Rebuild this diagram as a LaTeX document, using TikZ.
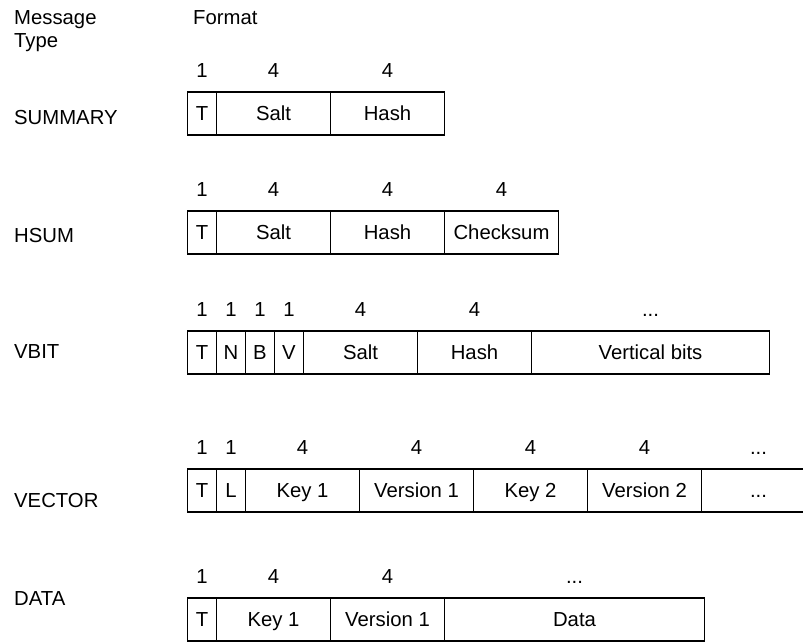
\documentclass[tikz,border=0pt]{standalone}
\usepackage{fontspec}
\setmainfont{Liberation Sans}
\usetikzlibrary{positioning}

\tikzset{
  field/.style={draw, line width=1.2pt, inner sep=0pt, outer sep=0pt,
    minimum height=43pt, text height=14.5pt, text depth=0pt},
  one/.style={field, minimum width=29pt},
  four/.style={field, minimum width=114pt},
  num/.style={inner sep=0pt, text height=14.5pt, text depth=0pt},
  msgname/.style={anchor=base west, inner sep=0pt},
}

\begin{document}
\begin{tikzpicture}[x=1pt, y=1pt, font=\fontsize{20.3}{23}\selectfont]% Message formats
  \useasboundingbox (0,0) rectangle (803,-642);

  % headings
  \node[align=left, anchor=north west, inner sep=0pt] (msg) at (14,-10) {Message\\Type};
  \node[anchor=north west, inner sep=0pt] (fmt) at (193,-10) {Format};

  % SUMMARY
  \node[msgname] (summary) at (14,-124) {SUMMARY};
  \node[one, anchor=west] (sT) at (187.5,-113.5) {T};
  \node[four, right=0pt of sT] (sSalt) {Salt};
  \node[four, right=0pt of sSalt] (sHash) {Hash};
  \node[num, above=14pt of sT] (sTn) {1};
  \node[num, above=14pt of sSalt] (sSaltn) {4};
  \node[num, above=14pt of sHash] (sHashn) {4};

  % HSUM
  \node[msgname] (hsum) at (14,-242) {HSUM};
  \node[one, anchor=west] (hT) at (187.5,-232.5) {T};
  \node[four, right=0pt of hT] (hSalt) {Salt};
  \node[four, right=0pt of hSalt] (hHash) {Hash};
  \node[four, right=0pt of hHash] (hCheck) {Checksum};
  \node[num, above=14pt of hT] (hTn) {1};
  \node[num, above=14pt of hSalt] (hSaltn) {4};
  \node[num, above=14pt of hHash] (hHashn) {4};
  \node[num, above=14pt of hCheck] (hCheckn) {4};

  % VBIT
  \node[msgname] (vbit) at (14,-358) {VBIT};
  \node[one, anchor=west] (bT) at (187.5,-352.5) {T};
  \node[one, right=0pt of bT] (bN) {N};
  \node[one, right=0pt of bN] (bB) {B};
  \node[one, right=0pt of bB] (bV) {V};
  \node[four, right=0pt of bV] (bSalt) {Salt};
  \node[four, right=0pt of bSalt] (bHash) {Hash};
  \node[field, minimum width=238pt, right=0pt of bHash] (bBits) {Vertical bits};
  \node[num, above=14pt of bT] (bTn) {1};
  \node[num, above=14pt of bN] (bNn) {1};
  \node[num, above=14pt of bB] (bBn) {1};
  \node[num, above=14pt of bV] (bVn) {1};
  \node[num, above=14pt of bSalt] (bSaltn) {4};
  \node[num, above=14pt of bHash] (bHashn) {4};
  \node[num, above=14pt of bBits] (bBitsn) {...};

  % VECTOR
  \node[msgname] (vector) at (14,-507) {VECTOR};
  \node[one, anchor=west] (vT) at (187.5,-490.5) {T};
  \node[one, right=0pt of vT] (vL) {L};
  \node[four, right=0pt of vL] (vKey1) {Key 1};
  \node[four, right=0pt of vKey1] (vVer1) {Version 1};
  \node[four, right=0pt of vVer1] (vKey2) {Key 2};
  \node[four, right=0pt of vKey2] (vVer2) {Version 2};
  \node[four, right=0pt of vVer2] (vMore) {...};
  \node[num, above=14pt of vT] (vTn) {1};
  \node[num, above=14pt of vL] (vLn) {1};
  \node[num, above=14pt of vKey1] (vKey1n) {4};
  \node[num, above=14pt of vVer1] (vVer1n) {4};
  \node[num, above=14pt of vKey2] (vKey2n) {4};
  \node[num, above=14pt of vVer2] (vVer2n) {4};
  \node[num, above=14pt of vMore] (vMoren) {...};

  % DATA
  \node[msgname] (data) at (14,-605) {DATA};
  \node[one, anchor=west] (dT) at (187.5,-619.5) {T};
  \node[four, right=0pt of dT] (dKey1) {Key 1};
  \node[four, right=0pt of dKey1] (dVer1) {Version 1};
  \node[field, minimum width=260pt, right=0pt of dVer1] (dData) {Data};
  \node[num, above=14pt of dT] (dTn) {1};
  \node[num, above=14pt of dKey1] (dKey1n) {4};
  \node[num, above=14pt of dVer1] (dVer1n) {4};
  \node[num, above=14pt of dData] (dDatan) {...};
\end{tikzpicture}
\end{document}
